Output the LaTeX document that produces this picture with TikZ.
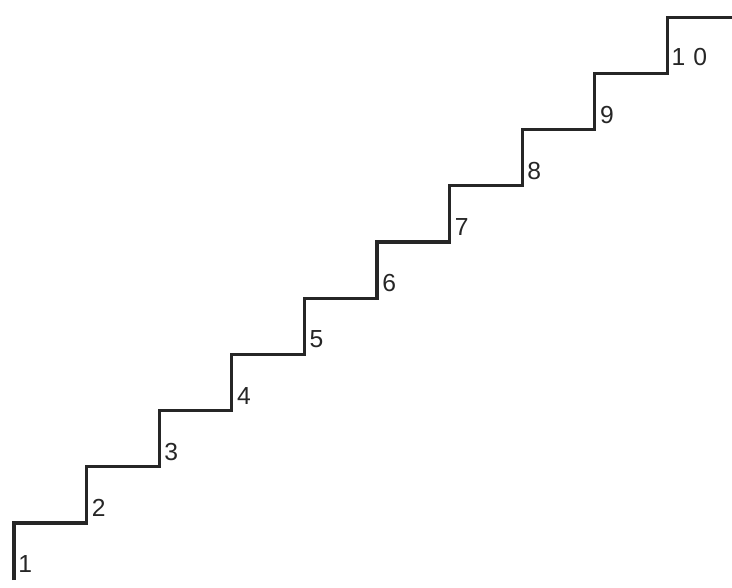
\documentclass[tikz,border=0pt]{standalone}
\usepackage{fontspec}
\setmainfont{Liberation Sans}
\begin{document}
\begin{tikzpicture}[x=0.75pt,y=-0.75pt,
  stair/.style={line width=2.4pt,draw=black!85,line join=miter},
  num/.style={anchor=west,inner sep=0pt,font=\fontsize{18.5}{20}\selectfont,text=black!85}]
\useasboundingbox (0,0) rectangle (732,587);
\coordinate (s0) at (14,580);
\foreach \i in {0,...,9}{
  \coordinate (r\i) at ({14+72.6*\i},{523-56.2*\i});
}
\coordinate (e) at (732,{523-56.2*9});
\draw[stair] (s0) -- (r0)
  \foreach \i [evaluate=\i as \j using int(\i+1)] in {0,...,8}{ -| (r\j) } -- (e);
\node[num] (n1) at (18,564) {1};
\foreach \i in {2,...,9}{
  \node[num] (n\i) at ({14+72.6*(\i-1)+5},{523-56.2*(\i-2)-15}) {\i};
}
\node[num] (n10) at ({14+72.6*9+4},{523-56.2*8-16}) {1\kern6pt0};
\end{tikzpicture}
\end{document}
